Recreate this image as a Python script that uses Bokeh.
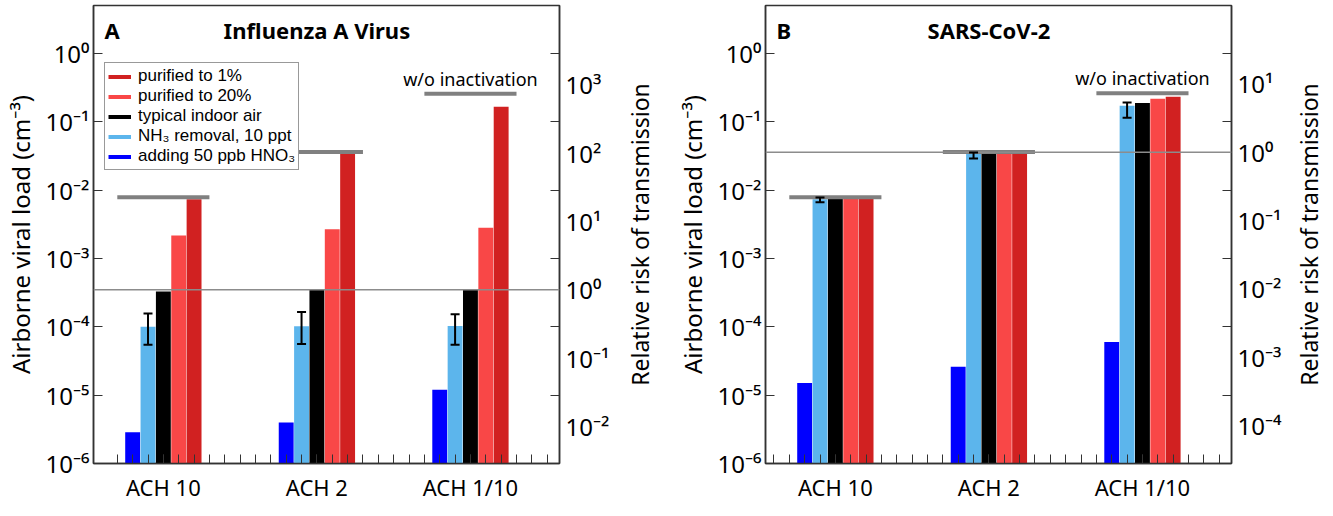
import numpy as np
from bokeh.plotting import figure
from bokeh.models import (ColumnDataSource, Range1d, LogScale, LogAxis, FixedTicker, Span,
                          Whisker, TeeHead, Legend, LegendItem, Label)
from bokeh.transform import dodge
from bokeh.layouts import row
from bokeh.embed import file_html
from bokeh.resources import INLINE

# ---------------- data ----------------
categories = ["ACH 10", "ACH 2", "ACH 1/10"]
series_names = ["adding 50 ppb HNO₃", "NH₃ removal, 10 ppt", "typical indoor air",
                "purified to 20%", "purified to 1%"]
series_colors = ["#0000FF", "#5CB5EC", "#000000", "#F94747", "#D12121"]

# Influenza A virus (cm^-3)
flu_hno3 = [2.86e-6, 3.98e-6, 1.2e-5]
flu_nh3 = [1.0e-4, 1.02e-4, 1.03e-4]
flu_typical = [3.27e-4, 3.45e-4, 3.52e-4]
flu_pur20 = [2.16e-3, 2.66e-3, 2.81e-3]
flu_pur1 = [7.35e-3, 3.45e-2, 1.655e-1]
flu_nh3_low = [5.45e-5, 5.58e-5, 5.45e-5]
flu_nh3_high = [1.56e-4, 1.64e-4, 1.52e-4]
flu_without_inactivation = [7.85e-3, 3.6e-2, 2.57e-1]
flu_reference = 3.47e-4

# SARS-CoV-2 (cm^-3)
sars_hno3 = [1.5e-5, 2.6e-5, 6.0e-5]
sars_nh3 = [7.3e-3, 3.45e-2, 1.71e-1]
sars_typical = [7.4e-3, 3.45e-2, 1.87e-1]
sars_pur20 = [7.4e-3, 3.45e-2, 2.16e-1]
sars_pur1 = [7.4e-3, 3.45e-2, 2.31e-1]
sars_nh3_low = [6.6e-3, 2.9e-2, 1.14e-1]
sars_nh3_high = [7.8e-3, 3.55e-2, 1.91e-1]
sars_without_inactivation = [7.85e-3, 3.6e-2, 2.6e-1]
sars_reference = 3.57e-2

load_exponents = [-6, -5, -4, -3, -2, -1, 0]
flu_risk_exponents = [-2, -1, 0, 1, 2, 3]
sars_risk_exponents = [-4, -3, -2, -1, 0, 1]

FONT = "Noto Sans"
EDGE = "#333333"
SUP = {"-": "⁻", "0": "⁰", "1": "¹", "2": "²", "3": "³", "4": "⁴",
       "5": "⁵", "6": "⁶", "7": "⁷", "8": "⁸", "9": "⁹"}
FRAME_W = 466
FRAME_H = 458


def pow_label(k):
    return "10" + "".join(SUP[c] for c in str(k))


def make_panel(letter, title, series, lo, hi, wo, ref, risk_exps, minor_start,
               border_left, border_right, legend):
    y0, y1 = 1e-6, 5.0
    x_lo, x_hi = 0.545, 3.58
    p = figure(frame_width=FRAME_W, frame_height=FRAME_H,
               x_range=Range1d(x_lo, x_hi), y_range=Range1d(y0, y1),
               y_axis_type="log", output_backend="svg", toolbar_location=None,
               min_border_left=border_left, min_border_right=border_right,
               min_border_top=5, min_border_bottom=0)
    p.extra_y_ranges = {"risk": Range1d(y0 / ref, y1 / ref)}
    p.extra_y_scales = {"risk": LogScale()}
    p.grid.visible = False
    p.outline_line_color = EDGE
    p.outline_line_width = 1.5
    p.background_fill_color = "white"
    p.border_fill_color = "white"

    xs = list(range(1, len(categories) + 1))
    data = dict(x=xs, lo=lo, hi=hi, wo=wo)
    for i, vals in enumerate(series):
        data["s%d" % i] = vals
    src = ColumnDataSource(data)

    n = len(series)
    for i in range(n):
        off = (i - (n - 1) / 2) * 0.1
        p.vbar(x=dodge("x", off), top="s%d" % i, bottom=y0, width=0.097,
               fill_color=series_colors[i], line_color=None, source=src)

    # w/o inactivation levels
    p.segment(x0=dodge("x", -0.3), x1=dodge("x", 0.3), y0="wo", y1="wo",
              line_color="#808080", line_width=4, source=src)

    p.add_layout(Span(location=ref, dimension="width", line_color="#8C8C8C", line_width=1.5))

    w = Whisker(base=dodge("x", -0.1), lower="lo", upper="hi", source=src,
                line_color="black", line_width=2, level="overlay",
                upper_head=TeeHead(size=9, line_color="black", line_width=2),
                lower_head=TeeHead(size=9, line_color="black", line_width=2))
    p.add_layout(w)

    p.add_layout(Label(x=xs[-1], y=wo[-1], text="w/o inactivation", text_align="center",
                       text_baseline="bottom", y_offset=3, text_font=FONT,
                       text_font_size="18px", text_color="black"))
    p.add_layout(Label(x=x_lo, y=y1, x_offset=11, y_offset=-24, text=letter,
                       text_align="left", text_baseline="middle", text_font=FONT,
                       text_font_size="22px", text_font_style="bold", text_color="black"))
    p.add_layout(Label(x=xs[len(xs) // 2], y=y1, y_offset=-24, text=title,
                       text_align="center", text_baseline="middle", text_font=FONT,
                       text_font_size="22px", text_font_style="bold", text_color="black"))

    # x axis
    xa = p.xaxis[0]
    minor = [round(v, 2) for v in np.arange(minor_start, 3.51, 0.1)]
    xa.ticker = FixedTicker(ticks=xs, minor_ticks=minor)
    xa.major_label_overrides = {x: c for x, c in zip(xs, categories)}
    xa.major_tick_in = 9
    xa.major_tick_out = 0
    xa.minor_tick_in = 9
    xa.minor_tick_out = 0
    xa.major_tick_line_color = EDGE
    xa.minor_tick_line_color = EDGE
    xa.axis_line_color = EDGE
    xa.axis_line_width = 1.5
    xa.major_label_standoff = 8
    xa.major_label_text_font = FONT
    xa.major_label_text_font_size = "22px"
    xa.major_label_text_color = "black"

    # left axis
    ya = p.yaxis[0]
    ticks = [10.0 ** k for k in load_exponents]
    ya.ticker = FixedTicker(ticks=ticks, minor_ticks=[])
    ya.major_label_overrides = {t: pow_label(k) for t, k in zip(ticks, load_exponents)}
    ya.major_tick_in = 9
    ya.major_tick_out = 0
    ya.minor_tick_in = 0
    ya.minor_tick_out = 0
    ya.major_tick_line_color = EDGE
    ya.axis_line_color = EDGE
    ya.axis_line_width = 1.5
    ya.major_label_standoff = 4
    ya.major_label_text_font = FONT
    ya.major_label_text_font_size = "24px"
    ya.major_label_text_color = "black"
    ya.axis_label = "Airborne viral load (cm⁻³)"
    ya.axis_label_text_font = FONT
    ya.axis_label_text_font_size = "24px"
    ya.axis_label_text_font_style = "normal"
    ya.axis_label_text_color = "black"
    ya.axis_label_standoff = 6

    # right frame ticks (mirror of left decades)
    ra = LogAxis(ticker=FixedTicker(ticks=ticks, minor_ticks=[]),
                 major_label_overrides={t: "" for t in ticks},
                 major_tick_in=9, major_tick_out=0, minor_tick_in=0, minor_tick_out=0,
                 major_tick_line_color=EDGE, axis_line_color=EDGE, axis_line_width=1.5,
                 major_label_standoff=0, major_label_text_font_size="1px")
    p.add_layout(ra, "right")

    # right risk axis (tick labels; its title is drawn by a slim companion figure)
    rticks = [10.0 ** k for k in risk_exps]
    rr = LogAxis(y_range_name="risk", ticker=FixedTicker(ticks=rticks, minor_ticks=[]),
                 major_label_overrides={t: pow_label(k) for t, k in zip(rticks, risk_exps)},
                 major_tick_in=0, major_tick_out=0, minor_tick_in=0, minor_tick_out=0,
                 axis_line_color=None, major_label_standoff=6,
                 major_label_text_font=FONT, major_label_text_font_size="24px",
                 major_label_text_color="black")
    p.add_layout(rr, "right")

    if legend:
        items = []
        for i in reversed(range(n)):
            r = p.line(x=[xs[0]], y=[float("nan")], line_color=series_colors[i], line_width=4)
            items.append(LegendItem(label=series_names[i], renderers=[r]))
        lg = Legend(items=items, location=(11, FRAME_H - 54 - 111), glyph_width=23,
                    glyph_height=19, label_height=19, spacing=0, padding=3, margin=0,
                    label_standoff=7, label_text_font="Liberation Sans",
                    label_text_font_size="17px", label_text_color="black",
                    border_line_color=EDGE, border_line_width=1.5,
                    background_fill_color="white", background_fill_alpha=1.0)
        p.add_layout(lg)
    return p


def make_side_title(text, border_left):
    f = figure(frame_width=1, frame_height=FRAME_H, x_range=Range1d(0, 1), y_range=Range1d(0, 1),
               output_backend="svg", toolbar_location=None, x_axis_location=None,
               min_border_left=border_left, min_border_right=0, min_border_top=5,
               min_border_bottom=30)
    f.outline_line_color = None
    f.grid.visible = False
    f.border_fill_color = "white"
    f.background_fill_color = "white"
    ax = f.yaxis[0]
    ax.ticker = FixedTicker(ticks=[], minor_ticks=[])
    ax.axis_line_color = None
    ax.major_tick_line_color = None
    ax.minor_tick_line_color = None
    ax.major_tick_out = 0
    ax.major_tick_in = 0
    ax.minor_tick_out = 0
    ax.minor_tick_in = 0
    ax.major_label_standoff = 0
    ax.axis_label = text
    ax.axis_label_standoff = 0
    ax.axis_label_text_font = FONT
    ax.axis_label_text_font_size = "23px"
    ax.axis_label_text_font_style = "normal"
    ax.axis_label_text_color = "black"
    return f


pA = make_panel("A", "Influenza A Virus",
                [flu_hno3, flu_nh3, flu_typical, flu_pur20, flu_pur1],
                flu_nh3_low, flu_nh3_high, flu_without_inactivation, flu_reference,
                flu_risk_exponents, 0.7, 89, 58, True)
tA = make_side_title("Relative risk of transmission", 38)
pB = make_panel("B", "SARS-CoV-2",
                [sars_hno3, sars_nh3, sars_typical, sars_pur20, sars_pur1],
                sars_nh3_low, sars_nh3_high, sars_without_inactivation, sars_reference,
                sars_risk_exponents, 0.6, 109, 58, False)
tB = make_side_title("Relative risk of transmission", 31)

layout = row(pA, tA, pB, tB)
open("out.html", "w").write(file_html(layout, INLINE))
